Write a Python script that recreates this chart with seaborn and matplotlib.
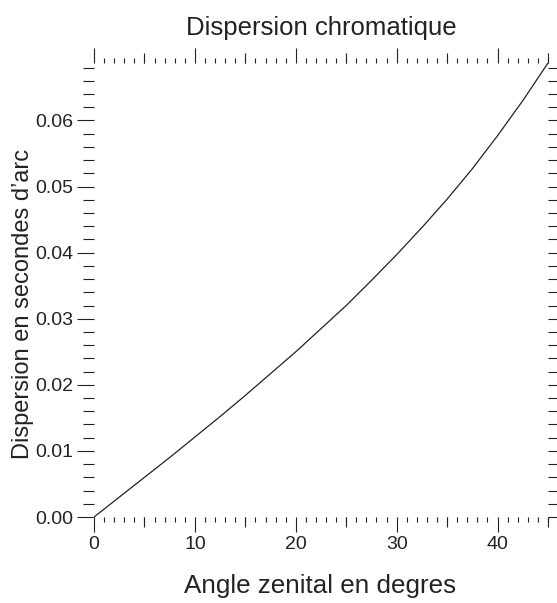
import numpy as np
import pandas as pd
import seaborn as sns
import matplotlib.pyplot as plt
from matplotlib.ticker import MultipleLocator

# zenith angle (deg) and chromatic dispersion (arcsec)
angle = [0, 2.5, 5, 7.5, 10, 12.5, 15, 17.5, 20, 22.5,
         25, 27.5, 30, 32.5, 35, 37.5, 40, 42.5, 45]
dispersion = [0.0, 0.0030, 0.0060, 0.0090, 0.0121, 0.0152, 0.0184, 0.0217, 0.0250, 0.0285,
              0.0320, 0.0358, 0.0397, 0.0438, 0.0481, 0.0527, 0.0577, 0.0630, 0.0687]
mid_ticks = [5, 15, 25, 35, 45]

df = pd.DataFrame({'angle': angle, 'dispersion': dispersion})

sns.set_style('ticks')
plt.rcParams['font.family'] = ['Liberation Sans', 'DejaVu Sans']
ink = '#222222'

fig = plt.figure(figsize=(5.57, 6.03), dpi=100)
ax = fig.add_axes([94 / 557, 1 - 517 / 603, 454 / 557, 454 / 603])

sns.lineplot(data=df, x='angle', y='dispersion', color=ink, linewidth=0.9, ax=ax)

ax.set_xlim(0, 45)
ax.set_ylim(0, max(dispersion))
for s in ax.spines.values():
    s.set_visible(False)

ax.xaxis.set_major_locator(MultipleLocator(10))
ax.xaxis.set_minor_locator(MultipleLocator(1))
ax.yaxis.set_major_locator(MultipleLocator(0.01))
ax.yaxis.set_minor_locator(MultipleLocator(0.002))
ax.yaxis.set_major_formatter(plt.FormatStrFormatter('%.2f'))

ax.tick_params(axis='x', which='major', length=10.8, width=0.8, color=ink,
               top=True, bottom=True, direction='out', pad=3, labelsize=14, labelcolor=ink)
ax.tick_params(axis='x', which='minor', length=3.6, width=0.8, color=ink,
               top=True, bottom=True, direction='out')
ax.tick_params(axis='y', which='major', length=12.2, width=0.8, color=ink,
               left=True, right=True, direction='out', pad=3, labelsize=14, labelcolor=ink)
ax.tick_params(axis='y', which='minor', length=7.9, width=0.8, color=ink,
               left=True, right=True, direction='out')

# medium ticks at the half decades, top and bottom
for side in ['bottom', 'top']:
    sec = ax.secondary_xaxis(side)
    sec.set_xticks(mid_ticks)
    sec.tick_params(length=7.5, width=0.8, color=ink, direction='out',
                    labelbottom=False, labeltop=False)
    for s in sec.spines.values():
        s.set_visible(False)

ax.set_title('Dispersion chromatique', fontsize=18.5, color=ink, y=1.0, pad=20.5)
ax.set_xlabel('Angle zenital en degres', fontsize=18.7, color=ink, va='baseline')
ax.xaxis.set_label_coords(320 / 557, 1 - 593 / 603, transform=fig.transFigure)
ax.set_ylabel('Dispersion en secondes d\u2019arc', fontsize=17, color=ink, va='center')
ax.yaxis.set_label_coords(23 / 557, 1 - 304 / 603, transform=fig.transFigure)

fig.savefig('out.png', dpi=100)
